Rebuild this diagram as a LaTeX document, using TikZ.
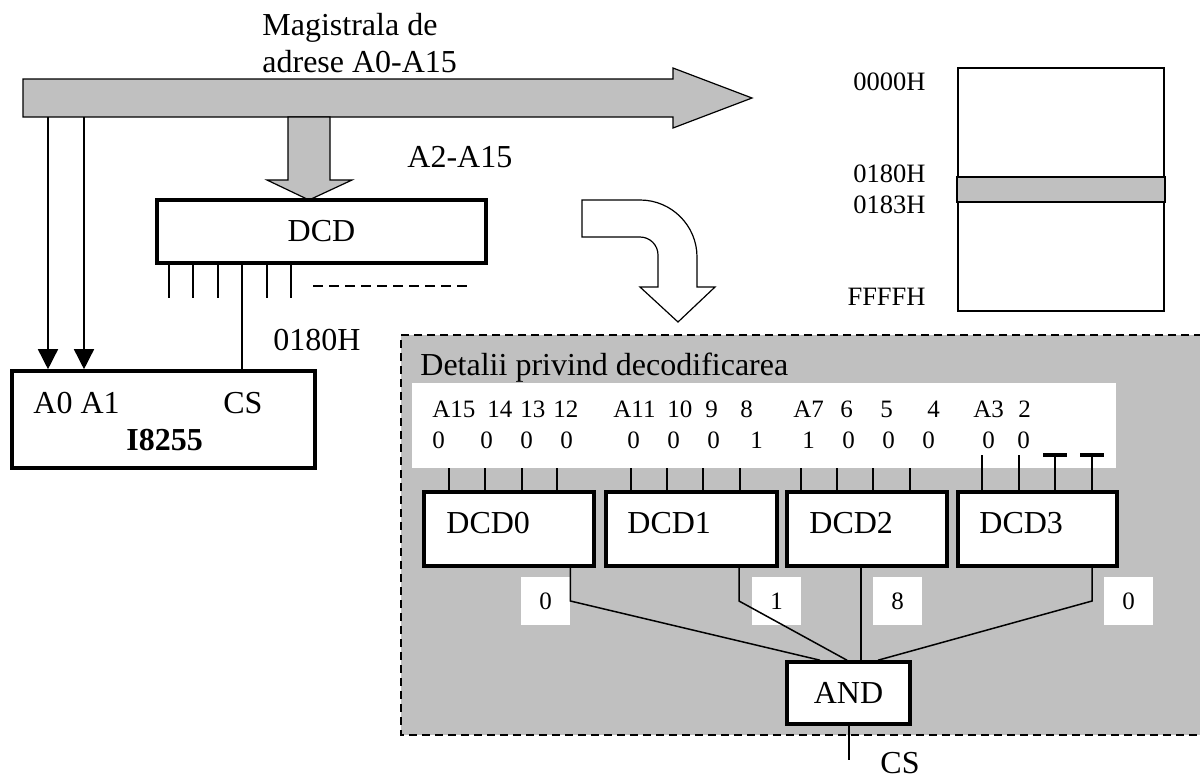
\documentclass[tikz,border=0pt]{standalone}
\usepackage{fontspec}
\setmainfont{Liberation Serif}
\usetikzlibrary{arrows.meta}
\definecolor{busgray}{HTML}{C0C0C0}
\begin{document}
\begin{tikzpicture}[x=0.5pt,y=-0.5pt,
  big/.style={font=\fontsize{16}{18.5}\selectfont, inner sep=0},
  small/.style={font=\fontsize{12.5}{14}\selectfont, inner sep=0},
  memlbl/.style={font=\fontsize{13.25}{15}\selectfont, inner sep=0, anchor=base east},
  thickbox/.style={draw, line width=1.8pt, fill=white, inner sep=0},
  conn/.style={line width=0.75pt},
  tipline/.style={line width=0.75pt, -{Triangle[length=10pt,width=10pt]}},
  outlbl/.style={fill=white, minimum width=24.5pt, minimum height=24pt, inner sep=0, font=\fontsize{12.5}{14}\selectfont},
  dashbord/.style={line width=1pt, dash pattern=on 4pt off 2.5pt}]
\useasboundingbox (0,0) rectangle (1200,778);

% ---------- detail panel (background) ----------
\fill[busgray] (401,335) rectangle (1202,735);
\draw[dashbord] (1202,335) -- (401,335) -- (401,735) -- (1202,735);
\node[fill=white, minimum width=352pt, minimum height=42.5pt, inner sep=0] (strip) at (764,425.5) {};
\node[big, anchor=base west] (dettitle) at (420,375) {Detalii privind decodificarea};

% bit labels
\foreach \x/\t [count=\i] in {432/A15,487/14,520/13,553/12,613/A11,667/10,705/9,740/8,793/A7,840/6,880/5,927/4,973/A3,1018/2}
  \node[small, anchor=base west] (ra\i) at (\x,417) {\t};
\foreach \x/\t [count=\i] in {432/0,480/0,520/0,560/0,627/0,667/0,707/0,750/1,802/1,842/0,882/0,922/0,982/0,1017/0}
  \node[small, anchor=base west] (rb\i) at (\x,448) {\t};

% decoder boxes
\node[thickbox, minimum width=85pt, minimum height=37pt] (dcd0) at (509,529) {};
\node[thickbox, minimum width=85.5pt, minimum height=37pt] (dcd1) at (691.5,529) {};
\node[thickbox, minimum width=80pt, minimum height=37pt] (dcd2) at (867,529) {};
\node[thickbox, minimum width=79.5pt, minimum height=37pt] (dcd3) at (1037.5,529) {};
\node[big, anchor=base west] (dcd0t) at (446,533) {DCD0};
\node[big, anchor=base west] (dcd1t) at (627,533) {DCD1};
\node[big, anchor=base west] (dcd2t) at (809,533) {DCD2};
\node[big, anchor=base west] (dcd3t) at (979,533) {DCD3};

% inputs
\foreach \x in {449,485,522,557} \draw[conn] (\x,0 |- strip.south) -- (\x,0 |- dcd0.north);
\foreach \x in {631,667,703,740} \draw[conn] (\x,0 |- strip.south) -- (\x,0 |- dcd1.north);
\foreach \x in {801,837,873,910} \draw[conn] (\x,0 |- strip.south) -- (\x,0 |- dcd2.north);
\coordinate (t1) at (982,455);
\coordinate (t2) at (1019,455);
\coordinate (t3) at (1055,455);
\coordinate (t4) at (1092,455);
\foreach \c in {t1,t2,t3,t4} \draw[conn] (\c) -- (\c |- dcd3.north);
\draw[line width=2pt] ([xshift=-6pt]t3) -- ([xshift=6pt]t3);
\draw[line width=2pt] ([xshift=-6pt]t4) -- ([xshift=6pt]t4);

% AND gate and outputs
\node[thickbox, minimum width=61.5pt, minimum height=31pt, big] (and) at (848.5,693) {AND};
\node[outlbl] (o0) at (545.5,601) {0};
\node[outlbl] (o1) at (776.5,601) {1};
\node[outlbl] (o2) at (897.5,601) {8};
\node[outlbl] (o3) at (1128.5,601) {0};
\draw[conn] (o0.east |- dcd0.south) -- (o0.east) -- ([xshift=-14.25pt]and.north);
\draw[conn] (739,0 |- dcd1.south) -- (739,0 |- o1.west) -- ([xshift=-0.75pt]and.north);
\draw[conn] (861,0 |- dcd2.south) -- (861,0 |- and.north);
\draw[conn] (1092,0 |- dcd3.south) -- (1092,0 |- o3.west) -- ([xshift=14.75pt]and.north);
\coordinate (csend) at (849,760);
\draw[conn] (849,0 |- and.south) -- (csend);
\node[big, anchor=base west] (cslbl) at (880,773) {CS};

% ---------- address bus ----------
\draw[fill=busgray, line width=0.6pt] (23,79) -- (673,79) -- (673,68) -- (752,98) -- (673,128) -- (673,117) -- (23,117) -- cycle;
\coordinate (busb) at (23,117);
\node[big, anchor=base west] (bus1) at (262,35) {Magistrala de};
\node[big, anchor=base west] (bus2) at (262,72) {adrese A0-A15};

% arrow to DCD
\draw[fill=busgray, line width=0.6pt] (288,117) -- (330,117) -- (330,180) -- (352,180) -- (309,200) -- (267,180) -- (288,180) -- cycle;
\node[big, anchor=base west] (a2lbl) at (407,167) {A2-A15};

% DCD
\node[thickbox, minimum width=164.5pt, minimum height=31.5pt, big] (dcd) at (321.5,231.5) {DCD};
\foreach \x in {169,193,218,267,291} \draw[conn] (\x,0 |- dcd.south) -- (\x,298);
\draw[conn, dash pattern=on 5pt off 3pt] (313,286) -- (470,286);
\node[big, anchor=base west] (lbl0180) at (273,350) {0180H};

% I8255
\node[thickbox, minimum width=151.5pt, minimum height=48.5pt] (i8255) at (163.5,419.5) {};
\node[big, anchor=base west] (a0a1) at (33,413) {A0 A1};
\node[big, anchor=base west] (cslbl2) at (223,413) {CS};
\node[big, anchor=base west, font=\fontsize{16}{18.5}\selectfont\bfseries] (i8255t) at (126,450) {I8255};
\draw[conn] (242,0 |- dcd.south) -- (242,0 |- i8255.north);
\draw[tipline] (48,0 |- busb) -- (48,0 |- i8255.north);
\draw[tipline] (84,0 |- busb) -- (84,0 |- i8255.north);

% curved hollow arrow
\draw[fill=white, line width=0.6pt] (582,200) -- (640,200) arc[start angle=-90, end angle=0, radius=57]
  -- (697,287) -- (715,287) -- (678,322) -- (640,287) -- (658,287) -- (658,255)
  arc[start angle=0, end angle=-90, radius=18] -- (582,237) -- cycle;

% memory map
\node[draw, line width=1pt, minimum width=103pt, minimum height=121.5pt, inner sep=0] (mem) at (1061,189.5) {};
\draw[fill=busgray, line width=1pt] (mem.west |- 0,177) rectangle (mem.east |- 0,202);
\node[memlbl] (m0) at (926,90) {0000H};
\node[memlbl] (m1) at (926,182) {0180H};
\node[memlbl] (m2) at (926,213) {0183H};
\node[memlbl] (m3) at (926,305) {FFFFH};
\end{tikzpicture}
\end{document}
